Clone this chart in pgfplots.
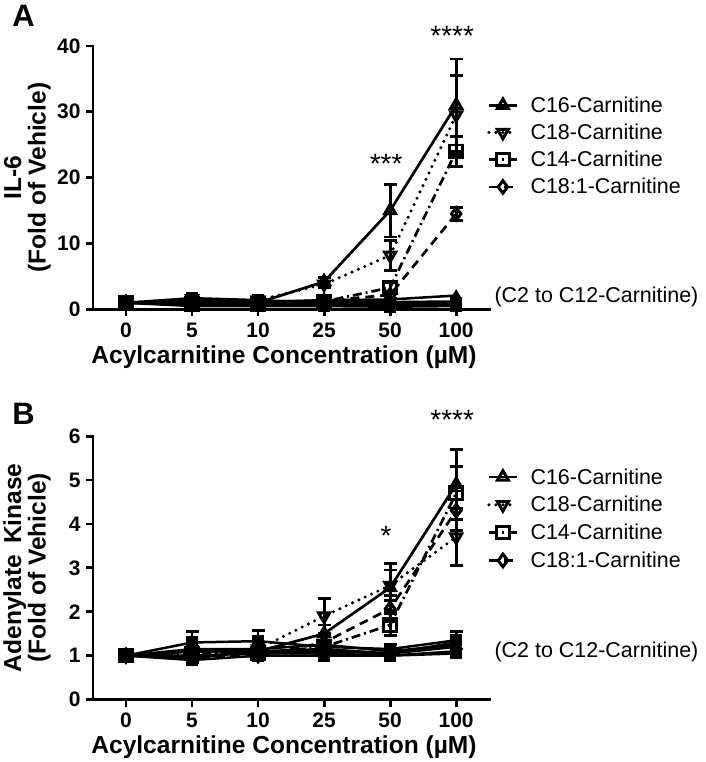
\documentclass[border=0pt]{standalone}
\usepackage{fontspec}
\setmainfont{Liberation Sans}
\usepackage{pgfplots}
\pgfplotsset{compat=1.18}
\tikzset{stars/.style={anchor=base, font=\fontsize{28}{28}\selectfont, xshift=-4pt}}
\pgfplotsset{
 common/.style={
  width=397pt, height=264pt, scale only axis,
  at={(86pt,#1)}, anchor=south west,
  xmin=-0.5, xmax=5.5, ymin=0,
  clip=false,
  axis lines=left, axis line style={-, line width=2.8pt, line cap=rect},
  xtick={0,1,2,3,4,5}, xticklabels={0,5,10,25,50,100},
  tick align=outside, major tick length=7pt,
  tick style={line width=2.8pt, black},
  xticklabel style={font=\bfseries\fontsize{21}{21}\selectfont, yshift=-3pt},
  yticklabel style={font=\bfseries\fontsize{21}{21}\selectfont, xshift=-2pt},
  /pgf/number format/assume math mode=true,
  label style={font=\bfseries\fontsize{24.6}{24.5}\selectfont},
  xlabel={Acylcarnitine Concentration (µM)},
  xlabel style={at={(axis description cs:0.482,-0.205)}, anchor=base},
  ylabel style={at={(axis description cs:-0.098,0.5)}, anchor=south, align=center},
  legend cell align=left,
  legend style={draw=none, fill=none, anchor=north west,
    font=\fontsize{21.5}{21.5}\selectfont, row sep=6.2pt,
    nodes={inner sep=2pt},
    /tikz/every odd column/.append style={column sep=10pt}},
  legend image code/.code={\draw[mark repeat=2,mark phase=2,##1] plot coordinates {(0pt,0pt) (14pt,0pt) (28pt,0pt)};},
 },
 mainser/.style={black, line width=2.7pt, mark size=6.3pt,
  mark options={solid, fill=white, line width=3pt},
  error bars/y dir=both, error bars/y explicit,
  error bars/error bar style={solid, line width=2.8pt},
  error bars/error mark options={rotate=90, mark size=6.5pt, line width=2.8pt, solid}},
 downmark/.style={mark=triangle, mark options={solid, fill=white, line width=3pt, rotate=180}},
 smallser/.style={black, line width=2.5pt, mark size=5.5pt, forget plot,
  mark options={solid, fill=black, line width=1pt},
  error bars/y dir=both, error bars/y explicit,
  error bars/error bar style={solid, line width=2.8pt},
  error bars/error mark options={rotate=90, mark size=6.5pt, line width=2.8pt, solid}},
 dotsty/.style={dash pattern=on 0pt off 7pt, line cap=round, line width=3.4pt},
 dashdotsty/.style={dash pattern=on 9pt off 4pt on 2pt off 4pt},
 dashsty/.style={dash pattern=on 9pt off 6pt},
}
\begin{document}
\begin{tikzpicture}[x=1pt,y=1pt]
\path (0,0) rectangle (700,762);
\node[anchor=base west, inner sep=0pt, font=\bfseries\fontsize{31}{31}\selectfont] at (5,735) {A};
\node[anchor=base west, inner sep=0pt, font=\bfseries\fontsize{31}{31}\selectfont] at (5,337) {B};

% ---------------- Panel A ----------------
\begin{axis}[common=452pt, ymax=40, ytick={0,10,20,30,40},
  ylabel={IL-6\\(Fold of Vehicle)},
  legend style={at={(axis description cs:0.987,0.823)}}]
% C2 to C12
\addplot[smallser, mark=square*] coordinates {(0,1) (1,0.5) (2,0.5) (3,0.5) (4,0.4) (5,0.5)};
\addplot[smallser, mark=*] coordinates {(0,1) (1,0.9) (2,0.8) (3,0.8) (4,0.7) (5,0.8)};
\addplot[smallser, mark=triangle*] coordinates {(0,1) (1,1.2) (2,1.1) (3,1.4) (4,1.5) (5,2.1)};
\addplot[smallser, mark=diamond*] coordinates {(0,1) (1,1.4) (2,1.2) (3,1.3) (4,1.1) (5,1.2)};
\addplot[smallser, mark=triangle*, mark options={solid, fill=black, line width=1pt, rotate=180}] coordinates {(0,1) (1,0.7) (2,0.6) (3,0.6) (4,0.5) (5,0.6)};
\addplot[smallser, mark=square*] coordinates {(0,1) (1,1.7) (2,1.4) (3,1.0) (4,0.9) (5,1.0)};
% main
\addplot[mainser, mark=triangle] coordinates {(0,1) +- (0,0.1) (1,1.2) +- (0,0.3) (2,1.0) +- (0,0.3) (3,4.2) +- (0,0.6) (4,15) +- (0,4) (5,31) +- (0,7)};
\addlegendentry{C16-Carnitine}
\addplot[mainser, dotsty, downmark] coordinates {(0,1) +- (0,0.1) (1,1.6) +- (0,0.3) (2,1.4) +- (0,0.3) (3,3.8) +- (0,0.5) (4,8.2) +- (0,2.3) (5,29.5) +- (0,6)};
\addlegendentry{C18-Carnitine}
\addplot[mainser, dashdotsty, mark=square] coordinates {(0,1) +- (0,0.1) (1,0.8) +- (0,0.2) (2,0.8) +- (0,0.2) (3,1.2) +- (0,0.3) (4,3.3) +- (0,0.8) (5,24) +- (0,2.3)};
\addlegendentry{C14-Carnitine}
\addplot[mainser, dashsty, mark=diamond] coordinates {(0,1) +- (0,0.1) (1,1.0) +- (0,0.2) (2,0.9) +- (0,0.2) (3,1.3) +- (0,0.3) (4,2.2) +- (0,0.5) (5,14.5) +- (0,1)};
\addlegendentry{C18:1-Carnitine}
\node[stars] at (axis cs:4,20.6) {***};
\node[stars] at (axis cs:5,40.1) {****};
\node[anchor=west, inner sep=0pt, font=\fontsize{21.5}{21.5}\selectfont] at (axis description cs:1.013,0.049) {(C2 to C12-Carnitine)};
\end{axis}

% ---------------- Panel B ----------------
\begin{axis}[common=61pt, ymax=6, ytick={0,1,2,3,4,5,6},
  ylabel={Adenylate\hspace{0.45em}Kinase\\(Fold of Vehicle)},
  legend style={at={(axis description cs:0.987,0.893)}, row sep=6.8pt}]
\addplot[smallser, mark=square*] coordinates {(0,1) (1,1.3) +- (0,0.25) (2,1.33) +- (0,0.25) (3,1.2) +- (0,0.1) (4,1.15) +- (0,0.1) (5,1.35) +- (0,0.2)};
\addplot[smallser, mark=*] coordinates {(0,1) (1,1.15) (2,1.15) (3,1.25) (4,1.1) (5,1.25)};
\addplot[smallser, mark=triangle*] coordinates {(0,1) (1,1.1) (2,1.1) (3,1.1) (4,1.05) (5,1.2)};
\addplot[smallser, mark=diamond*] coordinates {(0,1) (1,1.0) (2,1.05) (3,1.05) (4,1.0) (5,1.1)};
\addplot[smallser, mark=square*] coordinates {(0,1) (1,0.9) (2,1.0) (3,1.0) (4,1.0) (5,1.05)};
\addplot[smallser, mark=*] coordinates {(0,1) (1,0.95) (2,1.1) (3,1.15) (4,1.05) (5,1.3)};
\addplot[mainser, mark=triangle] coordinates {(0,1) +- (0,0.05) (1,1.1) +- (0,0.1) (2,1.1) +- (0,0.1) (3,1.5) +- (0,0.2) (4,2.55) +- (0,0.55) (5,4.9) +- (0,0.8)};
\addlegendentry{C16-Carnitine}
\addplot[mainser, dotsty, downmark] coordinates {(0,1) +- (0,0.05) (1,1.0) +- (0,0.1) (2,1.15) +- (0,0.1) (3,1.9) +- (0,0.4) (4,2.6) +- (0,0.35) (5,3.7) +- (0,0.65)};
\addlegendentry{C18-Carnitine}
\addplot[mainser, dashdotsty, mark=square] coordinates {(0,1) +- (0,0.05) (1,1.05) +- (0,0.1) (2,1.05) +- (0,0.1) (3,1.2) +- (0,0.15) (4,1.7) +- (0,0.25) (5,4.7) +- (0,0.6)};
\addlegendentry{C14-Carnitine}
\addplot[mainser, dashsty, mark=diamond] coordinates {(0,1) +- (0,0.05) (1,0.95) +- (0,0.1) (2,1.0) +- (0,0.1) (3,1.3) +- (0,0.15) (4,2.07) +- (0,0.3) (5,4.3) +- (0,0.45)};
\addlegendentry{C18:1-Carnitine}
\node[stars] at (axis cs:4,3.5) {*};
\node[stars] at (axis cs:5,6.16) {****};
\node[anchor=west, inner sep=0pt, font=\fontsize{21.5}{21.5}\selectfont] at (axis description cs:1.013,0.182) {(C2 to C12-Carnitine)};
\end{axis}
\end{tikzpicture}
\end{document}
